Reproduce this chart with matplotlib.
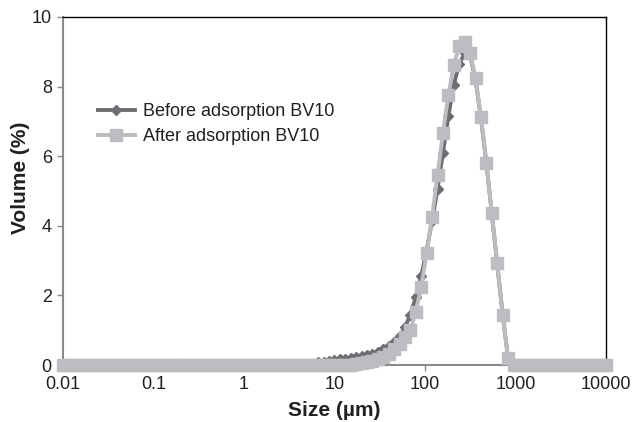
#!/usr/bin/env python3
"""Particle size distribution of BV10 before and after adsorption."""

import numpy as np
import matplotlib
matplotlib.use("Agg")
import matplotlib.pyplot as plt
from matplotlib.ticker import FixedLocator, FixedFormatter

plt.rcParams["font.family"] = ["Liberation Sans", "DejaVu Sans"]

# 101 laser-diffraction size classes, 0.01 to 10000 um (0.06 decade steps)
SIZES = np.logspace(-2, 4, 101)

# volume % per size class
BEFORE = [0.0] * 47 + [
    0.08, 0.10, 0.12, 0.14, 0.16, 0.18, 0.20, 0.23, 0.26, 0.29,
    0.33, 0.38, 0.45, 0.54, 0.66, 0.82, 1.08, 1.45, 1.95, 2.55,
    3.30, 4.15, 5.05, 6.10, 7.15, 8.05, 8.65, 8.95, 8.90, 8.20,
    7.10, 5.80, 4.35, 2.90, 1.45, 0.20,
] + [0.0] * 18

AFTER = [0.0] * 53 + [
    0.01, 0.03, 0.05, 0.08, 0.12, 0.17, 0.24, 0.33, 0.45, 0.60,
    0.81, 1.01, 1.53, 2.25, 3.21, 4.26, 5.46, 6.66, 7.76, 8.62,
    9.15, 9.29, 8.96, 8.24, 7.13, 5.80, 4.36, 2.92, 1.44, 0.19,
] + [0.0] * 18

LABELS = ["Before adsorption BV10", "After adsorption BV10"]
X_TICKS = [0.01, 0.1, 1, 10, 100, 1000, 10000]
X_TICK_LABELS = ["0.01", "0.1", "1", "10", "100", "1000", "10000"]
Y_TICKS = [0, 2, 4, 6, 8, 10]

DARK, LIGHT = "#6d6e71", "#bcbdc0"
TEXT, AXIS = "#231f20", "#8a8a8c"


def main():
    fig = plt.figure(figsize=(6.33, 4.22), dpi=100)
    ax = fig.add_axes([0.0995, 0.135, 0.8575, 0.825])

    ax.plot(SIZES, BEFORE, color=DARK, lw=2.8, marker="D", ms=5.5,
            mfc=DARK, mec=DARK, clip_on=False, zorder=3, label=LABELS[0])
    ax.plot(SIZES, AFTER, color=LIGHT, lw=2.8, marker="s", ms=8,
            mfc=LIGHT, mec=LIGHT, clip_on=False, zorder=4, label=LABELS[1])

    ax.set_xscale("log")
    ax.set_xlim(0.01, 10000)
    ax.set_ylim(0, 10)
    ax.xaxis.set_major_locator(FixedLocator(X_TICKS))
    ax.xaxis.set_major_formatter(FixedFormatter(X_TICK_LABELS))
    ax.xaxis.set_minor_locator(FixedLocator([]))
    ax.set_yticks(Y_TICKS)

    for side in ("top", "right"):
        ax.spines[side].set_color("black")
        ax.spines[side].set_linewidth(1.0)
    for side in ("left", "bottom"):
        ax.spines[side].set_color(AXIS)
        ax.spines[side].set_linewidth(1.5)

    ax.tick_params(axis="both", direction="out", length=4, width=1,
                   color=AXIS, labelsize=13, labelcolor=TEXT, pad=4)

    ax.set_xlabel("Size (µm)", fontsize=15, fontweight="bold", color=TEXT)
    ax.set_ylabel("Volume (%)", fontsize=15, fontweight="bold", color=TEXT)
    ax.xaxis.set_label_coords(0.5, -0.103)
    ax.yaxis.set_label_coords(-0.061, 0.537)

    ax.legend(loc="upper left", bbox_to_anchor=(0.064, 0.752), frameon=False,
              fontsize=13, numpoints=1, handlelength=2.05, handletextpad=0.45,
              labelspacing=0.45, borderpad=0, borderaxespad=0,
              labelcolor=TEXT)

    fig.savefig("out.png", dpi=100, facecolor="white")


if __name__ == "__main__":
    main()
